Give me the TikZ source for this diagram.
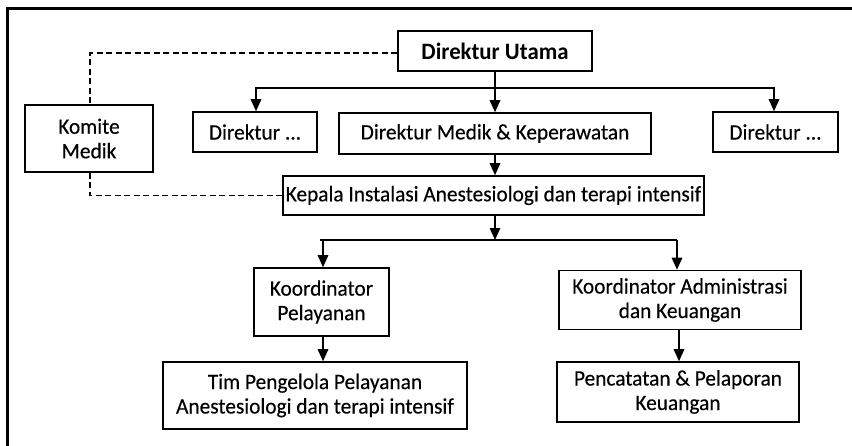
\documentclass[tikz,border=0pt]{standalone}
\usepackage{fontspec}
\setmainfont{Carlito}[FakeStretch=0.97,UprightFeatures={FakeBold=0.3}]
\usetikzlibrary{arrows.meta,positioning}
\begin{document}
\begin{tikzpicture}[x=1pt,y=-1pt,
  box/.style={draw,line width=1.6pt,align=center,inner sep=0pt,
    font=\fontsize{22}{24.5}\selectfont},
  arr/.style={line width=1.5pt,-{Triangle[length=12pt,width=10.5pt]}},
  link/.style={line width=1.5pt},
  dotted link/.style={line width=1.4pt,dash pattern=on 6pt off 3.5pt}]
\useasboundingbox (0,0) rectangle (852,445);
\clip (0,0) rectangle (852,445);
% outer frame
\draw[line width=3pt] (7.5,460) -- (7.5,8) -- (870,8);

% nodes
\node[box,minimum width=194pt,minimum height=40pt,
  font=\fontsize{23.5}{26}\selectfont\bfseries] (utama) at (495,51) {Direktur Utama};
\node[box,minimum width=128pt,minimum height=67pt] (komite) at (89,138.5) {Komite\\Medik};
\node[box,minimum width=124pt,minimum height=40pt] (dirL) at (255,132) {Direktur ...};
\node[box,minimum width=312pt,minimum height=41pt] (dirM) at (495,133.5) {Direktur Medik \& Keperawatan};
\node[box,minimum width=125pt,minimum height=40pt] (dirR) at (775.5,132) {Direktur ...};
\node[box,minimum width=421pt,minimum height=39pt] (kepala) at (493.5,195.5) {Kepala Instalasi Anestesiologi dan terapi intensif};
\node[box,minimum width=135pt,minimum height=68pt] (koordP) at (321.5,302) {Koordinator\\Pelayanan};
\node[box,minimum width=242pt,minimum height=59pt] (koordA) at (680,300) {Koordinator Administrasi\\dan Keuangan};
\node[box,minimum width=304pt,minimum height=67pt] (tim) at (315,395.5) {Tim Pengelola Pelayanan\\Anestesiologi dan terapi intensif};
\node[box,minimum width=242pt,minimum height=60pt] (penc) at (678,392) {Pencatatan \& Pelaporan\\Keuangan};

% junction points
\coordinate (busA) at (495,88);
\coordinate (busB) at (495,240);

% top level
\draw[link] (utama.south) -- (busA);
\draw[arr] (busA) -- (busA |- dirM.north);
\draw[arr] (busA) -| ([xshift=1pt]dirL.north);
\draw[arr] (busA) -| ([xshift=-1.5pt]dirR.north);
\draw[arr] (dirM.south) -- (dirM.south |- kepala.north);

% second level
\draw[arr] (kepala.south -| busB) -- (busB);
\draw[link] ([xshift=-2pt]koordP.north |- busB) -- ([xshift=-3pt]koordA.north |- busB);
\draw[arr] ([xshift=1.5pt]koordP.north |- busB) -- ([xshift=1.5pt]koordP.north);
\draw[arr] ([xshift=-3pt]koordA.north |- busB) -- ([xshift=-3pt]koordA.north);
\draw[arr] ([xshift=1.5pt]koordP.south) -- ([xshift=1.5pt]koordP.south |- tim.north);
\draw[arr] ([xshift=-1pt]koordA.south) -- ([xshift=-1pt]koordA.south |- penc.north);

% advisory lines
\draw[dotted link] ([yshift=-2pt]utama.west) -| ([xshift=1pt]komite.north);
\draw[dotted link] ([xshift=1pt]komite.south) |- (kepala.west);
\end{tikzpicture}
\end{document}
